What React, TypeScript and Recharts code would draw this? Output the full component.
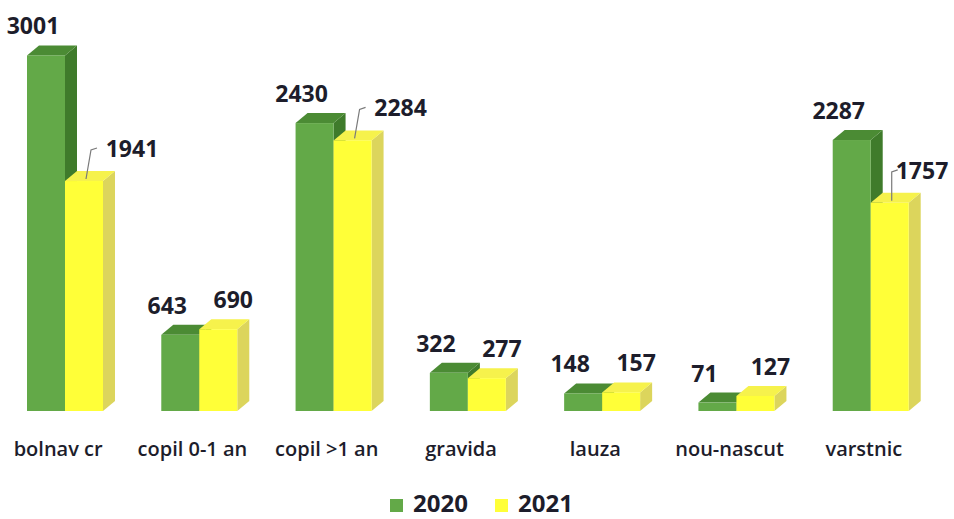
import React from 'react';
import { BarChart, Bar, XAxis, YAxis, Legend, LabelList } from 'recharts';

// categorii si valori
const categories = ['bolnav cr', 'copil 0-1 an', 'copil >1 an', 'gravida', 'lauza', 'nou-nascut', 'varstnic'];
const values2020 = [3001, 643, 2430, 322, 148, 71, 2287];
const values2021 = [1941, 690, 2284, 277, 157, 127, 1757];
const seriesNames = ['2020', '2021'];

const chartData = categories.map((name, i) => ({
  name,
  y2020: values2020[i],
  y2021: values2021[i],
}));

const colors = {
  green: { front: '#63a948', side: '#3f7b2b', top: '#4b8b34' },
  yellow: { front: '#ffff38', side: '#dcd55c', top: '#f6f24c' },
  text: '#1d1d2b',
  leader: '#7a7a7a',
};

const FONT = '"Open Sans", "DejaVu Sans", sans-serif';
const CHART_W = 956;
const DX = 12; // adancime 3D
const DY = 10;

function make3DShape(c: { front: string; side: string; top: string }) {
  return function Shape3D(props: any) {
    const { x, y, width: w, height: h } = props;
    if (h == null || w == null) return null;
    const side = `${x + w},${y} ${x + w + DX},${y - DY} ${x + w + DX},${y + h - DY} ${x + w},${y + h}`;
    const top = `${x},${y} ${x + DX},${y - DY} ${x + w + DX},${y - DY} ${x + w},${y}`;
    return (
      <g>
        <polygon points={side} fill={c.side} />
        <polygon points={top} fill={c.top} />
        <rect x={x} y={y} width={w} height={h} fill={c.front} />
      </g>
    );
  };
}

const GreenShape = make3DShape(colors.green);
const YellowShape = make3DShape(colors.yellow);

function GreenLabel(props: any) {
  const { x, y, width, value } = props;
  const cx = x + width / 2 - 13;
  return (
    <text x={cx} y={y - 30} textAnchor="middle" dominantBaseline="central"
      fontFamily={FONT} fontWeight={700} fontSize={23} fill={colors.text}>
      {value}
    </text>
  );
}

function YellowLabel(props: any) {
  const { x, y, width, value } = props;
  const far = value > 1000;
  // eticheta mutata la dreapta, dar in interiorul graficului
  const cx = Math.min(x + width / 2 + (far ? 48 : 15), CHART_W - 32);
  const cy = y - (far ? 33 : 30);
  const barCx = x + width / 2 + 2;
  const startX = Math.max(cx - 35, barCx + 6);
  return (
    <g>
      {far && (
        <polyline
          points={`${startX},${cy} ${startX - 6},${cy + 2} ${barCx},${y - 2}`}
          fill="none" stroke={colors.leader} strokeWidth={1.2} />
      )}
      <text x={cx} y={cy} textAnchor="middle" dominantBaseline="central"
        fontFamily={FONT} fontWeight={700} fontSize={23} fill={colors.text}>
        {value}
      </text>
    </g>
  );
}

function CategoryTick(props: any) {
  const { x, y, payload } = props;
  return (
    <text x={x - 7} y={y} dy={37} textAnchor="middle"
      fontFamily={FONT} fontWeight={600} fontSize={20} fill={colors.text}>
      {payload.value}
    </text>
  );
}

function LegendContent() {
  return (
    <svg width={CHART_W} height={48} style={{ display: 'block' }}>
      <rect x={392} y={28} width={13} height={13} fill={colors.green.front} />
      <text x={415} y={41} fontFamily={FONT} fontWeight={700} fontSize={24} fill={colors.text}>
        {seriesNames[0]}
      </text>
      <rect x={497} y={28} width={13} height={13} fill={colors.yellow.front} />
      <text x={520} y={41} fontFamily={FONT} fontWeight={700} fontSize={24} fill={colors.text}>
        {seriesNames[1]}
      </text>
    </svg>
  );
}

export default function App() {
  return (
    <div style={{ position: 'absolute', left: -2, top: 0, width: CHART_W, height: 519, background: '#fff' }}>
      <BarChart
        width={CHART_W}
        height={519}
        data={chartData}
        margin={{ top: 20, right: 16, left: 0, bottom: 0 }}
        barGap={0}
      >
        <XAxis
          dataKey="name"
          axisLine={false}
          tickLine={false}
          height={60}
          interval={0}
          tick={<CategoryTick />}
        />
        <YAxis hide domain={[0, 3300]} />
        <Legend
          verticalAlign="bottom"
          content={<LegendContent />}
          wrapperStyle={{ left: 0, bottom: 0, width: CHART_W, height: 48 }}
        />
        <Bar dataKey="y2020" name={seriesNames[0]} barSize={38} shape={<GreenShape />} isAnimationActive={false}>
          <LabelList dataKey="y2020" content={<GreenLabel />} />
        </Bar>
        <Bar dataKey="y2021" name={seriesNames[1]} barSize={38} shape={<YellowShape />} isAnimationActive={false}>
          <LabelList dataKey="y2021" content={<YellowLabel />} />
        </Bar>
      </BarChart>
    </div>
  );
}
